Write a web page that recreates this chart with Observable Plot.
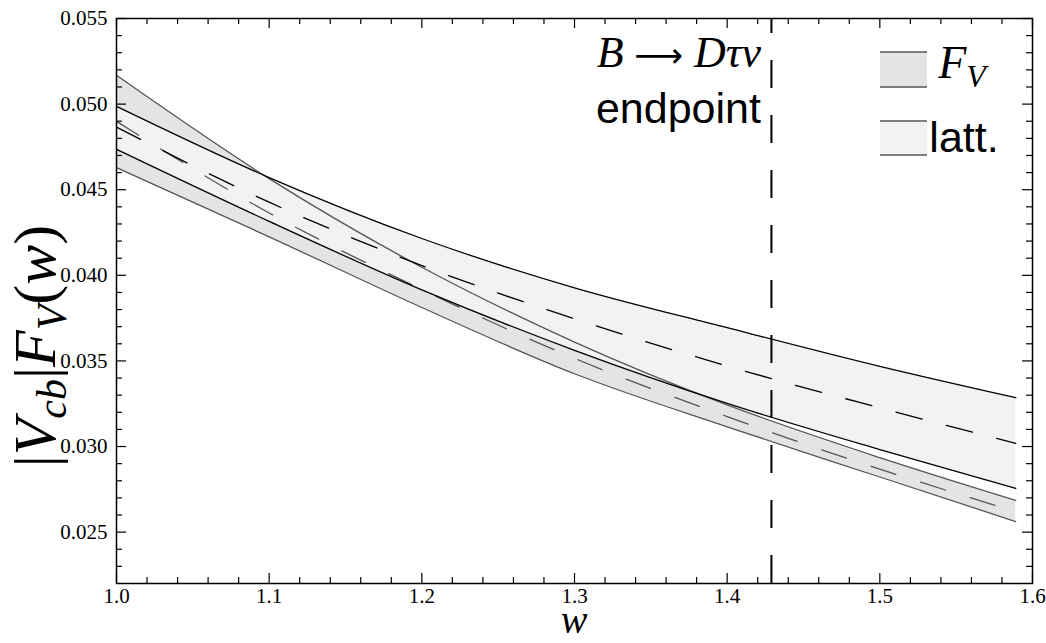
<!DOCTYPE html>
<html><head><meta charset="utf-8">
<script src="https://cdn.jsdelivr.net/npm/d3@7"></script>
<script src="https://cdn.jsdelivr.net/npm/@observablehq/plot@0.6"></script>
<style>html,body{margin:0;padding:0;background:#fff}svg{display:block}</style>
</head><body><div id="chart"></div>
<script>
// recoil parameter w
const w = [1.0, 1.1, 1.2, 1.3, 1.4, 1.5, 1.589];
// F_V band (darker grey)
const fvUpper  = [0.05168, 0.04565, 0.04047, 0.03610, 0.03243, 0.02935, 0.02685];
const fvCenter = [0.04899, 0.04364, 0.03917, 0.03515, 0.03175, 0.02868, 0.02620];
const fvLower  = [0.04629, 0.04225, 0.03812, 0.03425, 0.03115, 0.02822, 0.02562];
// lattice band (lighter grey)
const lattUpper  = [0.04987, 0.04571, 0.04215, 0.03927, 0.03694, 0.03468, 0.03285];
const lattCenter = [0.04866, 0.04427, 0.04057, 0.03746, 0.03470, 0.03226, 0.03019];
const lattLower  = [0.04736, 0.04315, 0.03915, 0.03562, 0.03252, 0.02982, 0.02755];
// B -> D tau nu endpoint
const endpointW = 1.429;
// ticks
const xMajor = [1.0, 1.1, 1.2, 1.3, 1.4, 1.5, 1.6];
const xMinor = [1.02,1.04,1.06,1.08,1.12,1.14,1.16,1.18,1.22,1.24,1.26,1.28,1.32,1.34,1.36,1.38,1.42,1.44,1.46,1.48,1.52,1.54,1.56,1.58];
const yMajor = [0.025, 0.030, 0.035, 0.040, 0.045, 0.050, 0.055];
const yMinor = [0.023,0.024,0.026,0.027,0.028,0.029,0.031,0.032,0.033,0.034,0.036,0.037,0.038,0.039,0.041,0.042,0.043,0.044,0.046,0.047,0.048,0.049,0.051,0.052,0.053,0.054];
// texts
const annotLine2 = "endpoint";
const legendLatt = "latt.";

const rows = w.map((x, i) => ({
  w: x, fvU: fvUpper[i], fvC: fvCenter[i], fvL: fvLower[i],
  lU: lattUpper[i], lC: lattCenter[i], lL: lattLower[i]
}));

const W = 1046, H = 643, mL = 116, mR = 14, mT = 18, mB = 60;
const plotW = W - mL - mR, plotH = H - mT - mB;
const curve = "monotone-x";
const grey = "#555", lw = 1.3;
const serif = "'Liberation Serif', 'Times New Roman', serif";
const sans = "'Liberation Sans', Arial, sans-serif";

const chart = Plot.plot({
  width: W, height: H,
  marginLeft: mL, marginRight: mR, marginTop: mT, marginBottom: mB,
  x: {domain: [1, 1.6], axis: null},
  y: {domain: [0.022, 0.055], axis: null},
  style: {fontFamily: serif, fontSize: "21px", color: "#000", background: "#fff"},
  marks: [
    Plot.areaY(rows, {x: "w", y1: "fvL", y2: "fvU", fill: "#e4e4e4", curve}),
    Plot.areaY(rows, {x: "w", y1: "lL", y2: "lU", fill: "#f2f2f2", curve}),
    Plot.lineY(rows, {x: "w", y: "fvU", stroke: grey, strokeWidth: lw, curve}),
    Plot.lineY(rows, {x: "w", y: "fvL", stroke: grey, strokeWidth: lw, curve}),
    Plot.lineY(rows, {x: "w", y: "fvC", stroke: grey, strokeWidth: lw, strokeDasharray: "26,26", curve}),
    Plot.lineY(rows, {x: "w", y: "lU", stroke: "#000", strokeWidth: lw, curve}),
    Plot.lineY(rows, {x: "w", y: "lL", stroke: "#000", strokeWidth: lw, curve}),
    Plot.lineY(rows, {x: "w", y: "lC", stroke: "#000", strokeWidth: lw, strokeDasharray: "27,25", curve}),
    Plot.ruleX([endpointW], {x: d => d, stroke: "#000", strokeWidth: 2, strokeDasharray: "28,27", strokeDashoffset: 13}),
    Plot.tickX(xMajor, {x: d => d, insetTop: plotH - 10, stroke: "#000", strokeWidth: 1.2}),
    Plot.tickX(xMinor, {x: d => d, insetTop: plotH - 6, stroke: "#000", strokeWidth: 1.2}),
    Plot.tickX(xMajor, {x: d => d, insetBottom: plotH - 10, stroke: "#000", strokeWidth: 1.2}),
    Plot.tickX(xMinor, {x: d => d, insetBottom: plotH - 6, stroke: "#000", strokeWidth: 1.2}),
    Plot.tickY(yMajor, {y: d => d, insetRight: plotW - 10, stroke: "#000", strokeWidth: 1.2}),
    Plot.tickY(yMinor, {y: d => d, insetRight: plotW - 6, stroke: "#000", strokeWidth: 1.2}),
    Plot.tickY(yMajor, {y: d => d, insetLeft: plotW - 10, stroke: "#000", strokeWidth: 1.2}),
    Plot.tickY(yMinor, {y: d => d, insetLeft: plotW - 6, stroke: "#000", strokeWidth: 1.2}),
    Plot.frame({stroke: "#000", strokeWidth: 1.5}),
    Plot.text(xMajor, {x: d => d, frameAnchor: "bottom", dy: 19, text: d => d3.format(".1f")(d),
      fontFamily: serif, fontSize: 21, fill: "#000"}),
    Plot.text(yMajor, {y: d => d, frameAnchor: "left", dx: -9, textAnchor: "end", text: d => d3.format(".3f")(d),
      fontFamily: serif, fontSize: 21, fill: "#000"})
  ]
});
document.getElementById("chart").appendChild(chart);

const svg = d3.select(chart);
const ex = chart.scale("x").apply(endpointW);

// annotation
const t1 = svg.append("text").attr("x", ex - 10).attr("y", 67).attr("text-anchor", "end")
  .style("font-family", serif).style("font-size", "44px").attr("fill", "#000");
t1.append("tspan").style("font-style", "italic").text("B");
t1.append("tspan").style("font-family", "'DejaVu Sans', sans-serif").style("font-size", "34px").text(" \u27F6 ");
t1.append("tspan").style("font-style", "italic").text("D\u03C4\u03BD");
svg.append("text").attr("x", ex - 10).attr("y", 123).attr("text-anchor", "end")
  .style("font-family", sans).style("font-size", "43px").attr("fill", "#000").text(annotLine2);

// legend
const lg = svg.append("g");
[[52, 87, "#e4e4e4"], [121, 155, "#f2f2f2"]].forEach(([y0, y1, f]) => {
  lg.append("rect").attr("x", 880).attr("y", y0).attr("width", 47).attr("height", y1 - y0).attr("fill", f);
  lg.append("line").attr("x1", 880).attr("x2", 927).attr("y1", y0).attr("y2", y0).attr("stroke", grey).attr("stroke-width", 1.3);
  lg.append("line").attr("x1", 880).attr("x2", 927).attr("y1", y1).attr("y2", y1).attr("stroke", grey).attr("stroke-width", 1.3);
});
const lf = lg.append("text").attr("x", 962).attr("y", 78).style("font-family", serif).style("font-size", "46px").style("font-style", "italic").attr("fill", "#000");
lf.append("tspan").text("F");
lf.append("tspan").attr("dy", 9).style("font-size", "32px").text("V");
lg.append("text").attr("x", 964).attr("y", 152).style("font-family", sans).style("font-size", "43px").attr("fill", "#000").text(legendLatt);

// axis titles
svg.append("text").attr("x", 574).attr("y", 633).attr("text-anchor", "middle")
  .style("font-family", serif).style("font-size", "40px").style("font-style", "italic").attr("fill", "#000").text("w");
const yl = svg.append("text").attr("transform", "translate(55,346) rotate(-90)").attr("text-anchor", "middle")
  .style("font-family", serif).style("font-size", "60px").attr("fill", "#000");
yl.append("tspan").text("|");
yl.append("tspan").style("font-style", "italic").text("V");
yl.append("tspan").style("font-style", "italic").style("font-size", "42px").attr("dy", 11).text("cb");
yl.append("tspan").attr("dy", -11).text("|");
yl.append("tspan").style("font-style", "italic").text("F");
yl.append("tspan").style("font-style", "italic").style("font-size", "42px").attr("dy", 11).text("V");
yl.append("tspan").attr("dy", -11).text("(");
yl.append("tspan").style("font-style", "italic").text("w");
yl.append("tspan").text(")");
</script>
</body></html>
